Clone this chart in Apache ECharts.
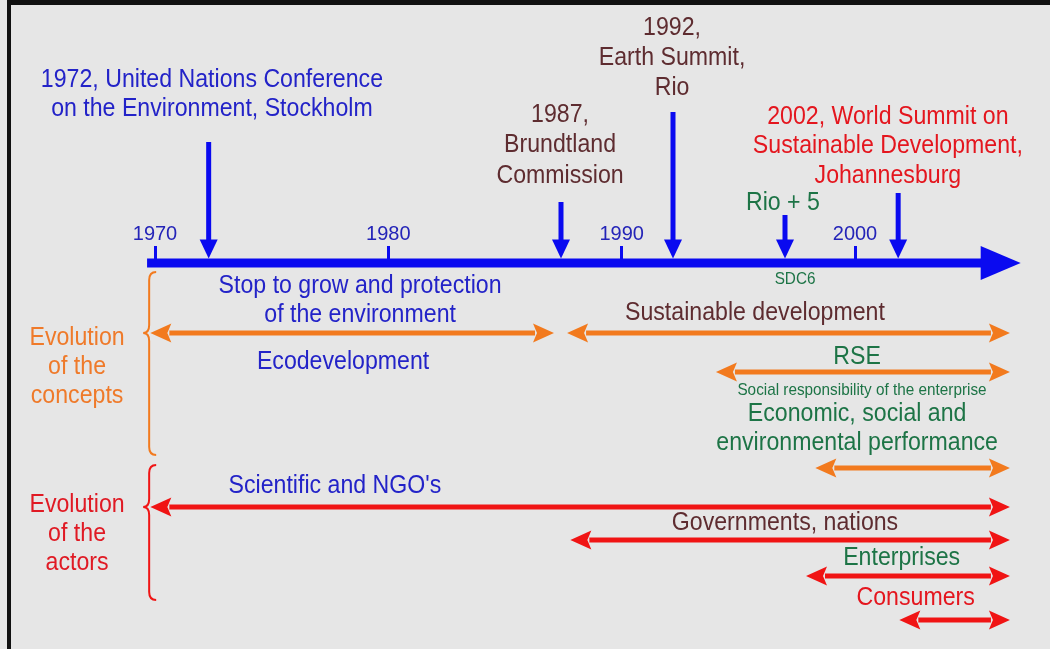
<!DOCTYPE html>
<html><head><meta charset="utf-8">
<script src="https://cdn.jsdelivr.net/npm/echarts@6/dist/echarts.min.js"></script>
<style>html,body{margin:0;padding:0;background:#e6e6e6;}#c{width:1050px;height:649px;}</style>
</head><body><div id="c"></div>
<script>
// ---------- data ----------
const tickYears = [1970, 1980, 1990, 2000];
const timelineSpan = [1969.66, 2007.1];
const eventNames = ['1972', '1987', '1992', 'Rio + 5', '2002'];
const eventYears = [1972.3, 1987.4, 1992.2, 1997.0, 2001.85];
const eventTopLevels = [-12.1, -6.1, -15.1, -4.8, -7.0];

const conceptNames = ['Stop to grow / Ecodevelopment', 'Sustainable development', 'RSE', 'Economic, social and environmental performance'];
const conceptStart = [1969.8, 1987.66, 1994.04, 1998.3];
const conceptEnd = [1987.1, 2006.64, 2006.64, 2006.64];
const conceptLevel = [7.0, 7.0, 10.9, 20.5];

const actorNames = ["Scientific and NGO's", 'Governments, nations', 'Enterprises', 'Consumers'];
const actorStart = [1969.8, 1987.8, 1997.9, 2001.9];
const actorEnd = [2006.64, 2006.64, 2006.64, 2006.64];
const actorLevel = [24.4, 27.7, 31.3, 35.7];

const braceNames = ['concepts', 'actors'];
const braceYear = [1969.75, 1969.75];
const braceTop = [0.9, 20.2];
const braceBottom = [19.2, 33.7];
const braceTip = [7.0, 24.4];

// text labels: [text, year, level, colourKey, sizeKey]
const labelTexts = [
  ['1972, United Nations Conference', 1972.44, -18.3, 'blue', 'big'],
  ['on the Environment, Stockholm', 1972.44, -15.4, 'blue', 'big'],
  ['1987,', 1987.36, -14.8, 'brown', 'big'],
  ['Brundtland', 1987.36, -11.8, 'brown', 'big'],
  ['Commission', 1987.36, -8.7, 'brown', 'big'],
  ['1992,', 1992.16, -23.5, 'brown', 'big'],
  ['Earth Summit,', 1992.16, -20.5, 'brown', 'big'],
  ['Rio', 1992.16, -17.5, 'brown', 'big'],
  ['2002, World Summit on', 2001.41, -14.6, 'red', 'big'],
  ['Sustainable Development,', 2001.41, -11.7, 'red', 'big'],
  ['Johannesburg', 2001.41, -8.7, 'red', 'big'],
  ['Rio + 5', 1996.91, -6.0, 'green', 'big'],
  ['SDC6', 1997.43, 1.6, 'green', 'small'],
  ['Stop to grow and protection', 1978.79, 2.3, 'blue', 'big'],
  ['of the environment', 1978.79, 5.2, 'blue', 'big'],
  ['Ecodevelopment', 1978.06, 9.9, 'blue', 'big'],
  ['Sustainable development', 1995.71, 5.0, 'brown', 'big'],
  ['RSE', 2000.09, 9.4, 'green', 'big'],
  ['Social responsibility of the enterprise', 2000.3, 12.7, 'green', 'small'],
  ['Economic, social and', 2000.09, 15.1, 'green', 'big'],
  ['environmental performance', 2000.09, 18.0, 'green', 'big'],
  ["Scientific and NGO's", 1977.71, 22.3, 'blue', 'big'],
  ['Governments, nations', 1997.0, 26.0, 'brown', 'big'],
  ['Enterprises', 2002.0, 29.5, 'green', 'big'],
  ['Consumers', 2002.6, 33.5, 'red', 'big'],
  ['Evolution', 1966.66, 7.5, 'orange', 'big'],
  ['of the', 1966.66, 10.4, 'orange', 'big'],
  ['concepts', 1966.66, 13.3, 'orange', 'big'],
  ['Evolution', 1966.66, 24.2, 'redLabel', 'big'],
  ['of the', 1966.66, 27.1, 'redLabel', 'big'],
  ['actors', 1966.66, 30.0, 'redLabel', 'big']
];

// ---------- styles ----------
const FONT = "'Liberation Sans Narrow', 'Liberation Sans', Arial, sans-serif";
const COLORS = {
  blue: '#2323c8', brown: '#5e2c30', red: '#e4161e', green: '#1d7446',
  orange: '#ef7a2a', redLabel: '#e01a24', axis: '#0a0af0', arrowOrange: '#f27a1e', arrowRed: '#f01414'
};
const SIZES = { big: 26, small: 17 };
const SCALEX = { big: 0.89, small: 0.9 };

const chart = echarts.init(document.getElementById('c'), null, { renderer: 'canvas' });

function dblArrow(api, x1, x2, lvl, color) {
  const a = api.coord([x1, lvl]);
  const b = api.coord([x2, lvl]);
  const y = a[1], hl = 21, hh = 9.5, lw = 5;
  return {
    type: 'group', children: [
      { type: 'rect', shape: { x: a[0] + hl - 2, y: y - lw / 2, width: b[0] - a[0] - 2 * hl + 4, height: lw }, style: { fill: color } },
      { type: 'polygon', shape: { points: [[a[0], y], [a[0] + hl, y - hh], [a[0] + hl - 4, y], [a[0] + hl, y + hh]] }, style: { fill: color } },
      { type: 'polygon', shape: { points: [[b[0], y], [b[0] - hl, y - hh], [b[0] - hl + 4, y], [b[0] - hl, y + hh]] }, style: { fill: color } }
    ]
  };
}

const option = {
  backgroundColor: '#e6e6e6',
  animation: false,
  grid: { left: 15, right: 8.333, top: 0, bottom: 386 },
  xAxis: {
    type: 'value', min: 1964, max: 2008, position: 'bottom',
    axisLine: { show: false }, splitLine: { show: false },
    axisTick: { show: true, inside: true, length: 17, customValues: tickYears, lineStyle: { color: COLORS.axis, width: 3 } },
    axisLabel: { inside: true, margin: 19, customValues: tickYears, color: '#2424b8', fontSize: 20, fontFamily: FONT,
      formatter: function (v) { return String(v); } }
  },
  yAxis: { type: 'value', inverse: true, min: -26.3, max: 0, show: false },
  graphic: [
    { type: 'rect', left: 7, top: 0, shape: { width: 1043, height: 5 }, style: { fill: '#111' }, z: 100 },
    { type: 'rect', left: 7, top: 0, shape: { width: 4, height: 649 }, style: { fill: '#111' }, z: 100 }
  ],
  series: [
    { // timeline
      type: 'custom', name: 'timeline', clip: false, z: 3,
      data: [[timelineSpan[0], timelineSpan[1]]],
      renderItem: function (params, api) {
        const a = api.coord([api.value(0), 0]);
        const b = api.coord([api.value(1), 0]);
        const y = a[1], lw = 9, hl = 40, hh = 17;
        return { type: 'group', children: [
          { type: 'rect', shape: { x: a[0], y: y - lw / 2, width: b[0] - a[0] - hl + 2, height: lw }, style: { fill: COLORS.axis } },
          { type: 'polygon', shape: { points: [[b[0], y], [b[0] - hl, y - hh], [b[0] - hl, y + hh]] }, style: { fill: COLORS.axis } }
        ] };
      }
    },
    { // events
      type: 'custom', name: 'events', clip: false, z: 3,
      data: eventYears.map((yr, i) => [yr, eventTopLevels[i], eventNames[i]]),
      renderItem: function (params, api) {
        const t = api.coord([api.value(0), api.value(1)]);
        const b = api.coord([api.value(0), -0.45]);
        const x = t[0], hl = 19, hh = 9, lw = 5;
        return { type: 'group', children: [
          { type: 'rect', shape: { x: x - lw / 2, y: t[1], width: lw, height: b[1] - t[1] - hl + 2 }, style: { fill: COLORS.axis } },
          { type: 'polygon', shape: { points: [[x, b[1]], [x - hh, b[1] - hl], [x + hh, b[1] - hl]] }, style: { fill: COLORS.axis } }
        ] };
      }
    },
    {
      type: 'custom', name: 'concepts', clip: false, z: 3,
      data: conceptStart.map((s, i) => [s, conceptEnd[i], conceptLevel[i], conceptNames[i]]),
      renderItem: function (params, api) { return dblArrow(api, api.value(0), api.value(1), api.value(2), COLORS.arrowOrange); }
    },
    {
      type: 'custom', name: 'actors', clip: false, z: 3,
      data: actorStart.map((s, i) => [s, actorEnd[i], actorLevel[i], actorNames[i]]),
      renderItem: function (params, api) { return dblArrow(api, api.value(0), api.value(1), api.value(2), COLORS.arrowRed); }
    },
    { // braces
      type: 'custom', name: 'braces', clip: false, z: 3,
      data: braceYear.map((yr, i) => [yr, braceTop[i], braceBottom[i], braceTip[i], braceNames[i]]),
      renderItem: function (params, api) {
        const top = api.coord([api.value(0), api.value(1)]);
        const bot = api.coord([api.value(0), api.value(2)]);
        const tip = api.coord([api.value(0), api.value(3)]);
        const x = top[0], r = 6, t = top[1], b = bot[1], m = tip[1];
        const c = params.dataIndex === 0 ? COLORS.arrowOrange : COLORS.arrowRed;
        const d = 'M' + (x + r + 1) + ' ' + t +
          ' Q' + (x) + ' ' + t + ' ' + x + ' ' + (t + r + 2) +
          ' L' + x + ' ' + (m - r - 2) +
          ' Q' + x + ' ' + m + ' ' + (x - r) + ' ' + m +
          ' Q' + x + ' ' + m + ' ' + x + ' ' + (m + r + 2) +
          ' L' + x + ' ' + (b - r - 2) +
          ' Q' + x + ' ' + b + ' ' + (x + r + 1) + ' ' + b;
        return { type: 'path', shape: { pathData: d }, style: { fill: 'none', stroke: c, lineWidth: 2 } };
      }
    },
    { // labels
      type: 'custom', name: 'labels', clip: false, z: 4,
      data: labelTexts.map(l => [l[1], l[2], l[0], l[3], l[4]]),
      renderItem: function (params, api) {
        const l = labelTexts[params.dataIndex];
        const p = api.coord([l[1], l[2]]);
        return { type: 'text', x: p[0], y: p[1], scaleX: SCALEX[l[4]], style: {
          text: l[0], fill: COLORS[l[3]], font: SIZES[l[4]] + 'px ' + FONT,
          align: 'center', verticalAlign: 'middle', textAlign: 'center', textVerticalAlign: 'middle'
        } };
      }
    }
  ]
};
chart.setOption(option);
</script>
</body></html>
